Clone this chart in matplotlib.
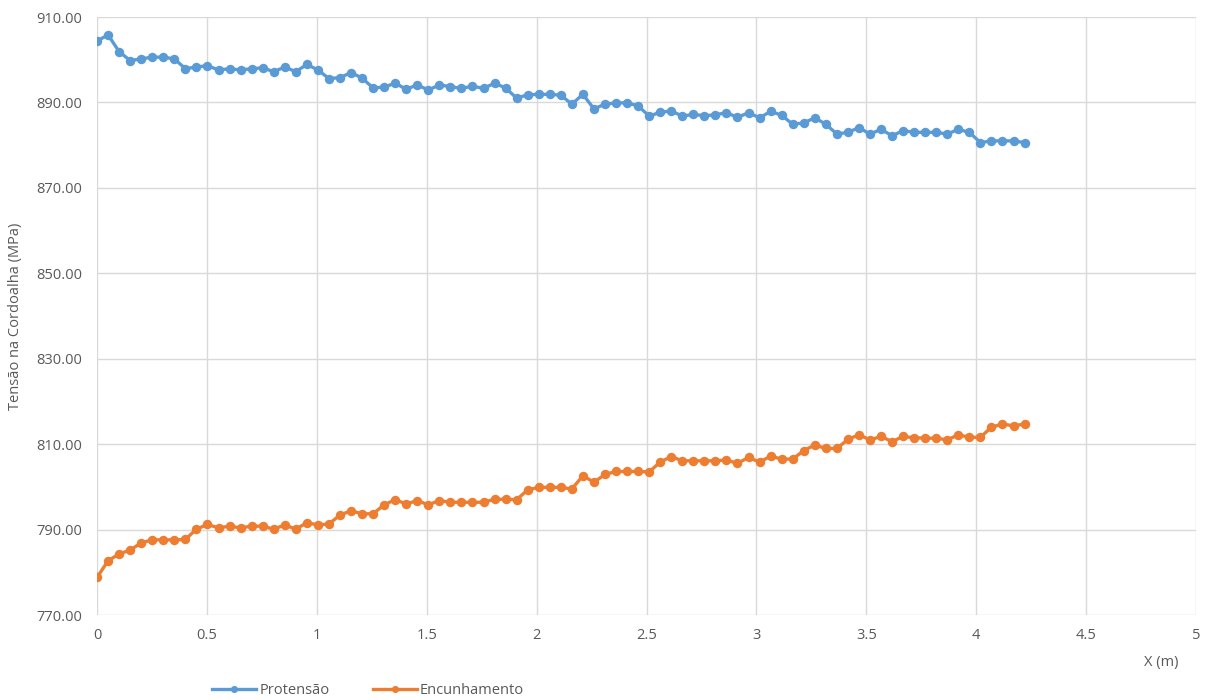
import numpy as np
import matplotlib
matplotlib.use("Agg")
import matplotlib.pyplot as plt
from matplotlib.ticker import FormatStrFormatter, FuncFormatter

# Stations along the strand (m): 85 points, 4.22 m total
LENGTH = 4.22
STATIONS = 85
x = np.linspace(0.0, LENGTH, STATIONS)

# Stress in the strand (MPa)
protensao = [
    904.4, 905.8, 901.9, 899.8, 900.2, 900.6, 900.6, 900.2, 897.9, 898.3,
    898.6, 897.6, 897.9, 897.6, 897.9, 898.1, 897.2, 898.3, 897.2, 898.9,
    897.6, 895.6, 895.8, 897.0, 895.7, 893.4, 893.6, 894.5, 893.1, 894.1,
    892.9, 894.1, 893.7, 893.3, 893.8, 893.3, 894.5, 893.4, 891.0, 891.8,
    891.9, 891.9, 891.7, 889.6, 891.9, 888.5, 889.6, 889.9, 889.9, 889.2,
    886.8, 887.7, 888.0, 886.8, 887.2, 886.9, 887.1, 887.6, 886.5, 887.6,
    886.4, 887.9, 887.0, 884.9, 885.2, 886.4, 884.9, 882.6, 883.0, 884.1,
    882.6, 883.7, 882.2, 883.4, 883.0, 883.0, 883.0, 882.6, 883.7, 883.0,
    880.6, 881.0, 881.0, 881.0, 880.6,
]
encunhamento = [
    778.8, 782.7, 784.3, 785.2, 786.9, 787.6, 787.6, 787.6, 787.7, 790.1,
    791.2, 790.4, 790.8, 790.4, 790.8, 790.8, 790.1, 791.1, 790.1, 791.6,
    791.1, 791.3, 793.4, 794.4, 793.7, 793.7, 795.8, 797.0, 796.0, 796.8,
    795.8, 796.8, 796.4, 796.4, 796.4, 796.4, 797.1, 797.1, 797.0, 799.3,
    799.9, 799.9, 799.9, 799.5, 802.6, 801.1, 802.9, 803.6, 803.6, 803.6,
    803.5, 805.8, 807.1, 806.1, 806.1, 806.1, 806.1, 806.3, 805.5, 806.9,
    805.8, 807.2, 806.5, 806.5, 808.5, 809.8, 809.0, 809.0, 811.1, 812.2,
    811.0, 811.8, 810.6, 811.8, 811.5, 811.4, 811.4, 811.0, 812.2, 811.6,
    811.6, 814.0, 814.7, 814.3, 814.7,
]

series_names = ["Protensão", "Encunhamento"]
series_colors = ["#5B9BD5", "#ED7D31"]

xticks = [0, 0.5, 1, 1.5, 2, 2.5, 3, 3.5, 4, 4.5, 5]
yticks = [770, 790, 810, 830, 850, 870, 890, 910]

plt.rcParams["font.family"] = ["Open Sans", "DejaVu Sans"]

fig = plt.figure(figsize=(12.07, 7.0), dpi=100)
ax = fig.add_axes([0.0804, 0.1214, 0.9105, 0.8543])

for vals, name, col in zip([protensao, encunhamento], series_names, series_colors):
    ax.plot(x, vals, color=col, lw=2.4, marker="o", ms=6.8,
            markeredgewidth=0, label=name, zorder=3)

ax.set_xlim(0, 5)
ax.set_ylim(770, 910)
ax.set_xticks(xticks)
ax.set_yticks(yticks)
ax.yaxis.set_major_formatter(FormatStrFormatter("%.2f"))
ax.xaxis.set_major_formatter(FuncFormatter(lambda v, p: f"{v:g}"))

ax.grid(True, color="#D9D9D9", lw=1.0, zorder=0)
for s in ax.spines.values():
    s.set_visible(False)
ax.tick_params(axis="y", length=0, labelsize=10.5, colors="#595959", pad=11)
ax.tick_params(axis="x", length=0, labelsize=10.5, colors="#595959", pad=9)

ax.set_ylabel("Tensão na Cordoalha (MPa)", fontsize=10.5, color="#595959", labelpad=9)
fig.text(0.962, 0.053, "X (m)", fontsize=10.5, color="#595959", ha="center", va="center")

leg = fig.legend(loc="center", bbox_to_anchor=(0.305, 0.013), ncol=2, frameon=False,
                 fontsize=10.5, handlelength=3.0, columnspacing=3.0,
                 handletextpad=0.2, markerscale=0.75)
for t in leg.get_texts():
    t.set_color("#595959")

fig.savefig("out.png", dpi=100)
